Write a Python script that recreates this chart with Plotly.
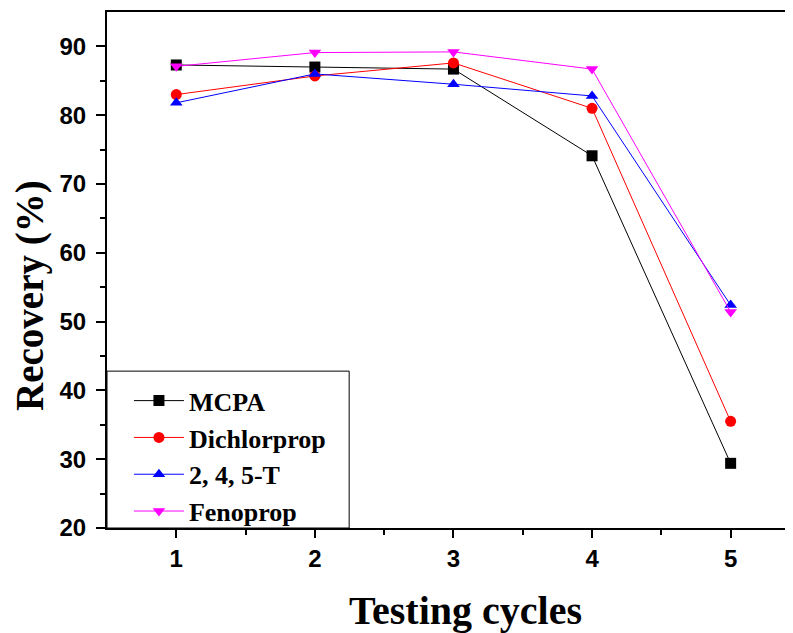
import plotly.graph_objects as go

cycles = [1, 2, 3, 4, 5]
mcpa = [87.3, 87.0, 86.7, 74.1, 29.4]
dichlorprop = [83.0, 85.7, 87.6, 81.0, 35.5]
t245 = [81.8, 86.0, 84.5, 82.8, 52.4]
fenoprop = [87.1, 89.1, 89.2, 86.7, 51.4]

names = ["MCPA", "Dichlorprop", "2, 4, 5-T", "Fenoprop"]
series = [mcpa, dichlorprop, t245, fenoprop]
colors = ["#000000", "#FF0000", "#0000FF", "#FF00FF"]
symbols = ["square", "circle", "triangle-up", "triangle-down"]

fig = go.Figure()
for n, s, c, m in zip(names, series, colors, symbols):
    fig.add_trace(go.Scatter(
        x=cycles, y=s, name=n, mode="lines+markers",
        line=dict(color=c, width=1),
        marker=dict(symbol=m, color=c, size=11),
    ))

tickfont = dict(family="Liberation Sans", size=24, color="black", weight="bold")
serif_bold = dict(family="Liberation Serif", color="black", weight="bold")

# page body has an 8px margin, so the figure is 8px smaller than the window
fig.update_layout(
    width=785, height=625,
    margin=dict(l=99, r=0, t=4, b=105),
    paper_bgcolor="white", plot_bgcolor="white",
    showlegend=True,
    legend=dict(
        x=0.032, y=-0.014, xanchor="left", yanchor="bottom",
        borderwidth=0, bgcolor="rgba(0,0,0,0)",
        font=dict(size=26, **serif_bold),
        itemwidth=50,
    ),
    shapes=[
        dict(type="rect", xref="paper", yref="paper", x0=0, x1=0.353, y0=0, y1=0.304,
             line=dict(color="black", width=1), fillcolor="white", layer="below"),
    ],
    annotations=[
        dict(text="Testing cycles", xref="paper", yref="paper", x=0.522, y=-0.159,
             xanchor="center", yanchor="middle", showarrow=False,
             font=dict(size=40, **serif_bold)),
        dict(text="Recovery (%)", xref="paper", yref="paper", x=-0.112, y=0.45,
             xanchor="center", yanchor="middle", showarrow=False, textangle=-90,
             font=dict(size=39, **serif_bold)),
    ],
)
fig.update_xaxes(
    automargin=False,
    range=[0.5, 5.45], tickvals=cycles, ticktext=[str(c) for c in cycles],
    showgrid=False, zeroline=False,
    showline=True, linecolor="black", linewidth=2, mirror=True,
    ticks="outside", ticklen=8, tickwidth=2, tickcolor="black",
    minor=dict(tickvals=[1.5, 2.5, 3.5, 4.5], ticks="outside", ticklen=5, tickwidth=2, tickcolor="black"),
    tickfont=tickfont, ticklabelstandoff=0,
)
fig.update_yaxes(
    automargin=False,
    range=[20, 95], tickvals=[20, 30, 40, 50, 60, 70, 80, 90],
    showgrid=False, zeroline=False,
    showline=True, linecolor="black", linewidth=2, mirror=False,
    ticks="outside", ticklen=9, tickwidth=2, tickcolor="black",
    minor=dict(tickvals=[25, 35, 45, 55, 65, 75, 85], ticks="outside", ticklen=5, tickwidth=2, tickcolor="black"),
    tickfont=tickfont, ticklabelstandoff=5,
)

fig.write_html("out.html")
